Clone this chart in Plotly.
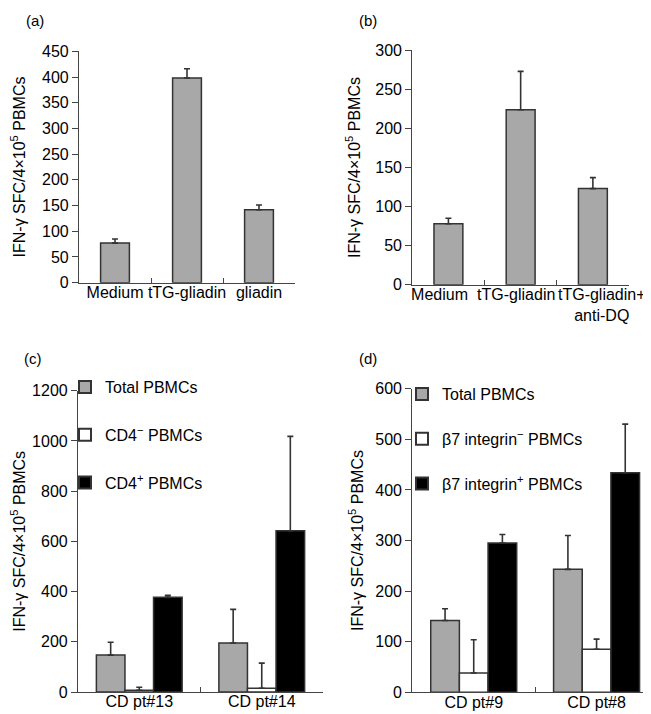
import plotly.graph_objects as go
from plotly.subplots import make_subplots

# ---- data ----
a_cats = ["Medium", "tTG-gliadin", "gliadin"]
a_vals = [77, 398, 142]
a_err = [8, 18, 9]

b_cats = ["Medium", "tTG-gliadin", "tTG-gliadin+ anti-DQ"]
b_ticktext = ["Medium", "tTG-gliadin", "tTG-gliadin+<br>anti-DQ"]
b_vals = [78, 224, 123]
b_err = [7, 49, 14]

c_cats = ["CD pt#13", "CD pt#14"]
c_total = [147, 195]
c_total_err = [51, 134]
c_neg = [7, 15]
c_neg_err = [12, 100]
c_pos = [377, 642]
c_pos_err = [8, 376]

d_cats = ["CD pt#9", "CD pt#8"]
d_total = [142, 243]
d_total_err = [23, 67]
d_neg = [38, 85]
d_neg_err = [66, 20]
d_pos = [295, 434]
d_pos_err = [17, 96]

c_names = ["Total PBMCs", "CD4<sup>\u2212</sup> PBMCs", "CD4<sup>+</sup> PBMCs"]
d_names = ["Total PBMCs", "\u03b27 integrin<sup>\u2212</sup> PBMCs", "\u03b27 integrin<sup>+</sup> PBMCs"]

# ---- styles ----
W, H = 651, 714
FONT = "Liberation Sans, Arial, sans-serif"
GRAY = "#a8a8a8"
EDGE = "#333333"
AX = "#444444"
fills = [GRAY, "#ffffff", "#000000"]
ytitle = "IFN-\u03b3 SFC/4\u00d710<sup>5</sup> PBMCs"
NB = "\u00a0"
# pad the crowded labels of panel (b) so they sit where the original packs them
b_pad_after = [NB * 4, NB * 2, ""]
b_pad_before = ["", "", NB * 4]
b_labels = [
    "<br>".join(b_pad_before[i] + part + b_pad_after[i] for part in b_ticktext[i].split("<br>"))
    for i in range(3)
]

fig = make_subplots(rows=2, cols=2)


def err(arr):
    return dict(type="data", symmetric=False, array=arr, arrayminus=[0] * len(arr),
                color=EDGE, thickness=1.6, width=3)


fig.add_trace(go.Bar(x=a_cats, y=a_vals, error_y=err(a_err), width=0.4, offset=-0.2,
                     marker=dict(color=GRAY, line=dict(color=EDGE, width=1.5)),
                     showlegend=False), row=1, col=1)
fig.add_trace(go.Bar(x=b_cats, y=b_vals, error_y=err(b_err), width=0.4, offset=-0.2,
                     marker=dict(color=GRAY, line=dict(color=EDGE, width=1.5)),
                     showlegend=False), row=1, col=2)

for i, (vals, e) in enumerate([(c_total, c_total_err), (c_neg, c_neg_err), (c_pos, c_pos_err)]):
    fig.add_trace(go.Bar(x=c_cats, y=vals, error_y=err(e), name=c_names[i],
                         marker=dict(color=fills[i], line=dict(color=EDGE, width=1.5)),
                         legend="legend", legendgroup="c%d" % i), row=2, col=1)
for i, (vals, e) in enumerate([(d_total, d_total_err), (d_neg, d_neg_err), (d_pos, d_pos_err)]):
    fig.add_trace(go.Bar(x=d_cats, y=vals, error_y=err(e), name=d_names[i],
                         marker=dict(color=fills[i], line=dict(color=EDGE, width=1.5)),
                         legend="legend2", legendgroup="d%d" % i), row=2, col=2)


def px_x(a, b):
    return [a / W, b / W]


def px_y(top, bottom):
    return [1 - bottom / H, 1 - top / H]


xdoms = [px_x(71, 287), px_x(404.3, 621), px_x(70, 315), px_x(404.3, 650)]
ydoms = [px_y(43.3, 274.7), px_y(42.3, 276.7), px_y(382.7, 684), px_y(380.7, 684.3)]
yranges = [[0, 450], [0, 300], [0, 1200], [0, 600]]
dticks = [50, 50, 200, 100]
standoffs = [12, 10, 4, 7]

for k in range(4):
    sx = "xaxis" if k == 0 else "xaxis%d" % (k + 1)
    sy = "yaxis" if k == 0 else "yaxis%d" % (k + 1)
    fig.layout[sx].update(domain=xdoms[k], type="category", tickson="boundaries",
                          ticks="inside", ticklen=5, tickcolor=AX, showline=True,
                          linecolor=AX, linewidth=1.2, showgrid=False, zeroline=False,
                          tickangle=0, ticklabelstandoff=-5,
                          tickfont=dict(size=16, color="#000", family=FONT),
                          automargin=False)
    fig.layout[sy].update(domain=ydoms[k], range=yranges[k], dtick=dticks[k], tick0=0,
                          ticks="outside", ticklen=6, tickcolor=AX, showline=True,
                          linecolor=AX, linewidth=1.2, showgrid=False, zeroline=False,
                          tickfont=dict(size=16, color="#000", family=FONT),
                          title=dict(text=ytitle, font=dict(size=16, color="#000", family=FONT),
                                     standoff=standoffs[k]),
                          automargin=False)

fig.update_xaxes(range=[-0.5, 2.5], row=1)
fig.update_xaxes(range=[-0.5, 1.5], row=2)
fig.update_xaxes(tickmode="array", tickvals=b_cats, ticktext=b_labels, row=1, col=2)

labels = [("(a)", 16, 2), ("(b)", 349, 2), ("(c)", 14, 340), ("(d)", 349, 340)]
for t, x, y in labels:
    fig.add_annotation(text=t, x=x / W, y=1 - y / H, xref="paper", yref="paper",
                       xanchor="left", yanchor="top", showarrow=False,
                       font=dict(size=15, color="#000", family=FONT))

leg_common = dict(bgcolor="rgba(0,0,0,0)", font=dict(size=16, color="#000", family=FONT),
                  xanchor="left", yanchor="top", itemsizing="constant")
fig.update_layout(
    width=W, height=H, margin=dict(l=0, r=0, t=0, b=0),
    paper_bgcolor="white", plot_bgcolor="white",
    barmode="group", bargap=0.3, bargroupgap=0,
    font=dict(family=FONT, color="#000"),
    legend=dict(x=57 / W, y=1 - 362 / H, tracegroupgap=24, **leg_common),
    legend2=dict(x=394 / W, y=1 - 369 / H, tracegroupgap=21, **leg_common),
)

fig.write_html("out.html")
